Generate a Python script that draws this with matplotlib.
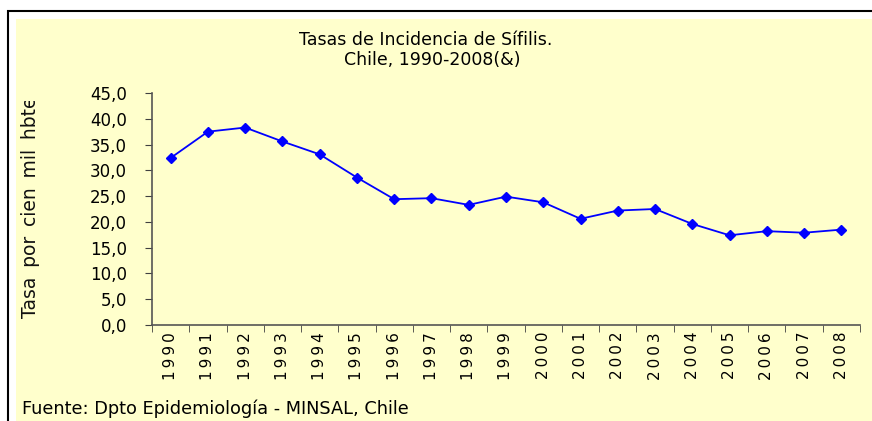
import matplotlib
matplotlib.use("Agg")
import matplotlib.pyplot as plt
from matplotlib.patches import Rectangle
from matplotlib.ticker import FixedLocator, FuncFormatter

years = ["1990", "1991", "1992", "1993", "1994", "1995", "1996", "1997", "1998", "1999",
         "2000", "2001", "2002", "2003", "2004", "2005", "2006", "2007", "2008"]
rates = [32.4, 37.5, 38.3, 35.6, 33.1, 28.6, 24.4, 24.6, 23.3, 24.9,
         23.8, 20.6, 22.2, 22.5, 19.6, 17.4, 18.2, 17.9, 18.5]
yticks = [0, 5, 10, 15, 20, 25, 30, 35, 40, 45]

W, H = 872, 421
fig = plt.figure(figsize=(W / 100, H / 100), dpi=100)
fig.patch.set_facecolor("white")

# frame and yellow background
fig.patches.append(Rectangle((16 / W, 0), 1, 1 - 19 / H, transform=fig.transFigure,
                             facecolor="#FFFFCC", edgecolor="none", zorder=0))
fig.patches.append(Rectangle((8 / W, -0.1), 1.2, 1.1 - 11 / H, transform=fig.transFigure,
                             facecolor="none", edgecolor="black", linewidth=1.5, zorder=1))

ax = fig.add_axes([152 / W, 1 - 325 / H, (860 - 152) / W, (325 - 93) / H])
ax.set_zorder(5)
ax.patch.set_alpha(0)
x = list(range(len(years)))
ax.plot(x, rates, color="#0000FF", marker="D", markersize=5, linewidth=1.3, clip_on=False)

ax.set_xlim(-0.5, len(years) - 0.5)
ax.set_ylim(0, 45)
ax.set_xticks(x)
ax.set_xticklabels(["\u2009".join(y) for y in years], rotation=90, fontsize=11, family="DejaVu Sans")
ax.xaxis.set_minor_locator(FixedLocator([i - 0.5 for i in range(len(years) + 1)]))
ax.tick_params(axis="x", which="major", length=0, pad=5)
ax.tick_params(axis="x", which="minor", length=5, direction="out", color="#404040")
ax.set_yticks(yticks)
ax.yaxis.set_major_formatter(FuncFormatter(lambda v, p: f"{v:.1f}".replace(".", ",")))
ax.tick_params(axis="y", length=5, direction="out", color="#404040", labelsize=12, pad=13)
for s in ["top", "right"]:
    ax.spines[s].set_visible(False)
for s in ["left", "bottom"]:
    ax.spines[s].set_color("#555555")
    ax.spines[s].set_linewidth(1.2)

fig.text(426 / W, 1 - 40 / H, "Tasas de Incidencia de Sífilis.", ha="center", va="center",
         fontsize=12.5, family="DejaVu Sans")
fig.text(432 / W, 1 - 60 / H, "Chile, 1990-2008(&)", ha="center", va="center",
         fontsize=12.5, family="DejaVu Sans")
fig.text(22 / W, 1 - 409 / H, "Fuente: Dpto Epidemiología - MINSAL, Chile", ha="left", va="center",
         fontsize=12.8, family="DejaVu Sans")

yl = fig.text(31 / W, 1 - 318 / H, "Tasa \u2009por \u2009cien \u2009mil \u2009hbte", rotation=90,
              ha="center", va="bottom", fontsize=13.5, family="DejaVu Sans", color="#111111")
clip = Rectangle((0, 0), 1, 1 - 101 / H, transform=fig.transFigure, facecolor="none", edgecolor="none")
fig.patches.append(clip)
yl.set_clip_path(clip)

fig.savefig("out.png", dpi=100)
